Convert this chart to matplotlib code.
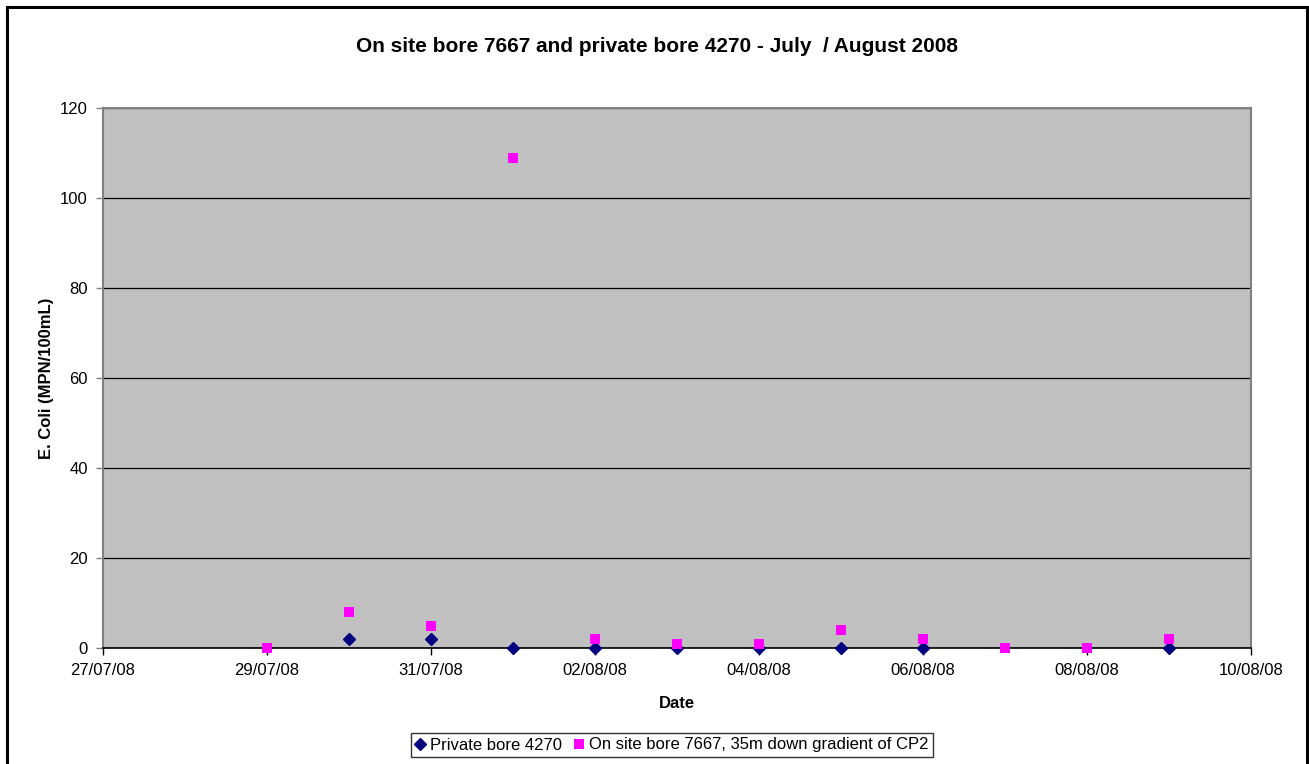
import matplotlib
matplotlib.use("Agg")
import matplotlib.pyplot as plt
import matplotlib.dates as mdates
from matplotlib.patches import Rectangle
from datetime import datetime

plt.rcParams['font.family'] = ['Liberation Sans', 'DejaVu Sans']

# Sampling dates and E. coli counts (MPN/100mL)
private_dates = ["30/07/08", "31/07/08", "01/08/08", "02/08/08", "03/08/08",
                 "04/08/08", "05/08/08", "06/08/08", "09/08/08"]
private_values = [2, 2, 0, 0, 0, 0, 0, 0, 0]

onsite_dates = ["29/07/08", "30/07/08", "31/07/08", "01/08/08", "02/08/08",
                "03/08/08", "04/08/08", "05/08/08", "06/08/08", "07/08/08",
                "08/08/08", "09/08/08"]
onsite_values = [0, 8, 5, 109, 2, 1, 1, 4, 2, 0, 0, 2]

x_start, x_end = "27/07/08", "10/08/08"
y_ticks = [0, 20, 40, 60, 80, 100, 120]

title = "On site bore 7667 and private bore 4270 - July  / August 2008"
private_label = "Private bore 4270"
onsite_label = "On site bore 7667, 35m down gradient of CP2"


def parse(d):
    return datetime.strptime(d, "%d/%m/%y")


W, H = 1309, 764
fig = plt.figure(figsize=(W / 100, H / 100), dpi=100)
fig.patch.set_facecolor("white")

# Outer chart frame
fig.patches.append(Rectangle((7 / W, -0.05), 1300 / W, 1 - 7 / H + 0.05,
                             transform=fig.transFigure, fill=False,
                             edgecolor="black", linewidth=2.2, clip_on=False))

ax = fig.add_axes([103 / W, (H - 648) / H, (1251 - 103) / W, (648 - 108) / H])
ax.set_facecolor("#C0C0C0")

ax.plot([parse(d) for d in private_dates], private_values, linestyle="none",
        marker="D", markersize=6.0, color="#000080", label=private_label,
        clip_on=False, zorder=3)
ax.plot([parse(d) for d in onsite_dates], onsite_values, linestyle="none",
        marker="s", markersize=7.6, color="#FF00FF", markeredgewidth=0,
        label=onsite_label, clip_on=False, zorder=4)

ax.set_xlim(parse(x_start), parse(x_end))
ax.set_ylim(y_ticks[0], y_ticks[-1])
ax.set_yticks(y_ticks)
ax.xaxis.set_major_formatter(mdates.DateFormatter("%d/%m/%y"))
ax.set_xticks([mdates.date2num(parse(x_start)) + 2 * i for i in range(8)])

ax.yaxis.grid(True, color="black", linewidth=0.9)
ax.set_axisbelow(True)

for side in ["left", "top", "right"]:
    ax.spines[side].set_color("#808080")
    ax.spines[side].set_linewidth(1.5)
ax.spines["bottom"].set_color("black")
ax.spines["bottom"].set_linewidth(1.2)

ax.tick_params(axis="both", direction="out", length=5, width=1,
               labelsize=12, colors="black", pad=6)
ax.tick_params(axis="y", color="#808080")

ax.set_xlabel("Date", fontsize=12, fontweight="bold", labelpad=13)
ax.set_ylabel("E. Coli (MPN/100mL)", fontsize=12, fontweight="bold", labelpad=4)
fig.text(657 / W, 1 - 47 / H, title, ha="center", va="center",
         fontsize=15, fontweight="bold")

leg = fig.legend(loc="center", bbox_to_anchor=(672 / W, 1 - 745 / H), ncol=2,
                 fontsize=12, frameon=True, fancybox=False, edgecolor="black",
                 handlelength=0.6, handletextpad=0.3, columnspacing=0.7,
                 borderpad=0.25, borderaxespad=0)
leg.get_frame().set_linewidth(1.0)

fig.savefig("out.png", dpi=100)
